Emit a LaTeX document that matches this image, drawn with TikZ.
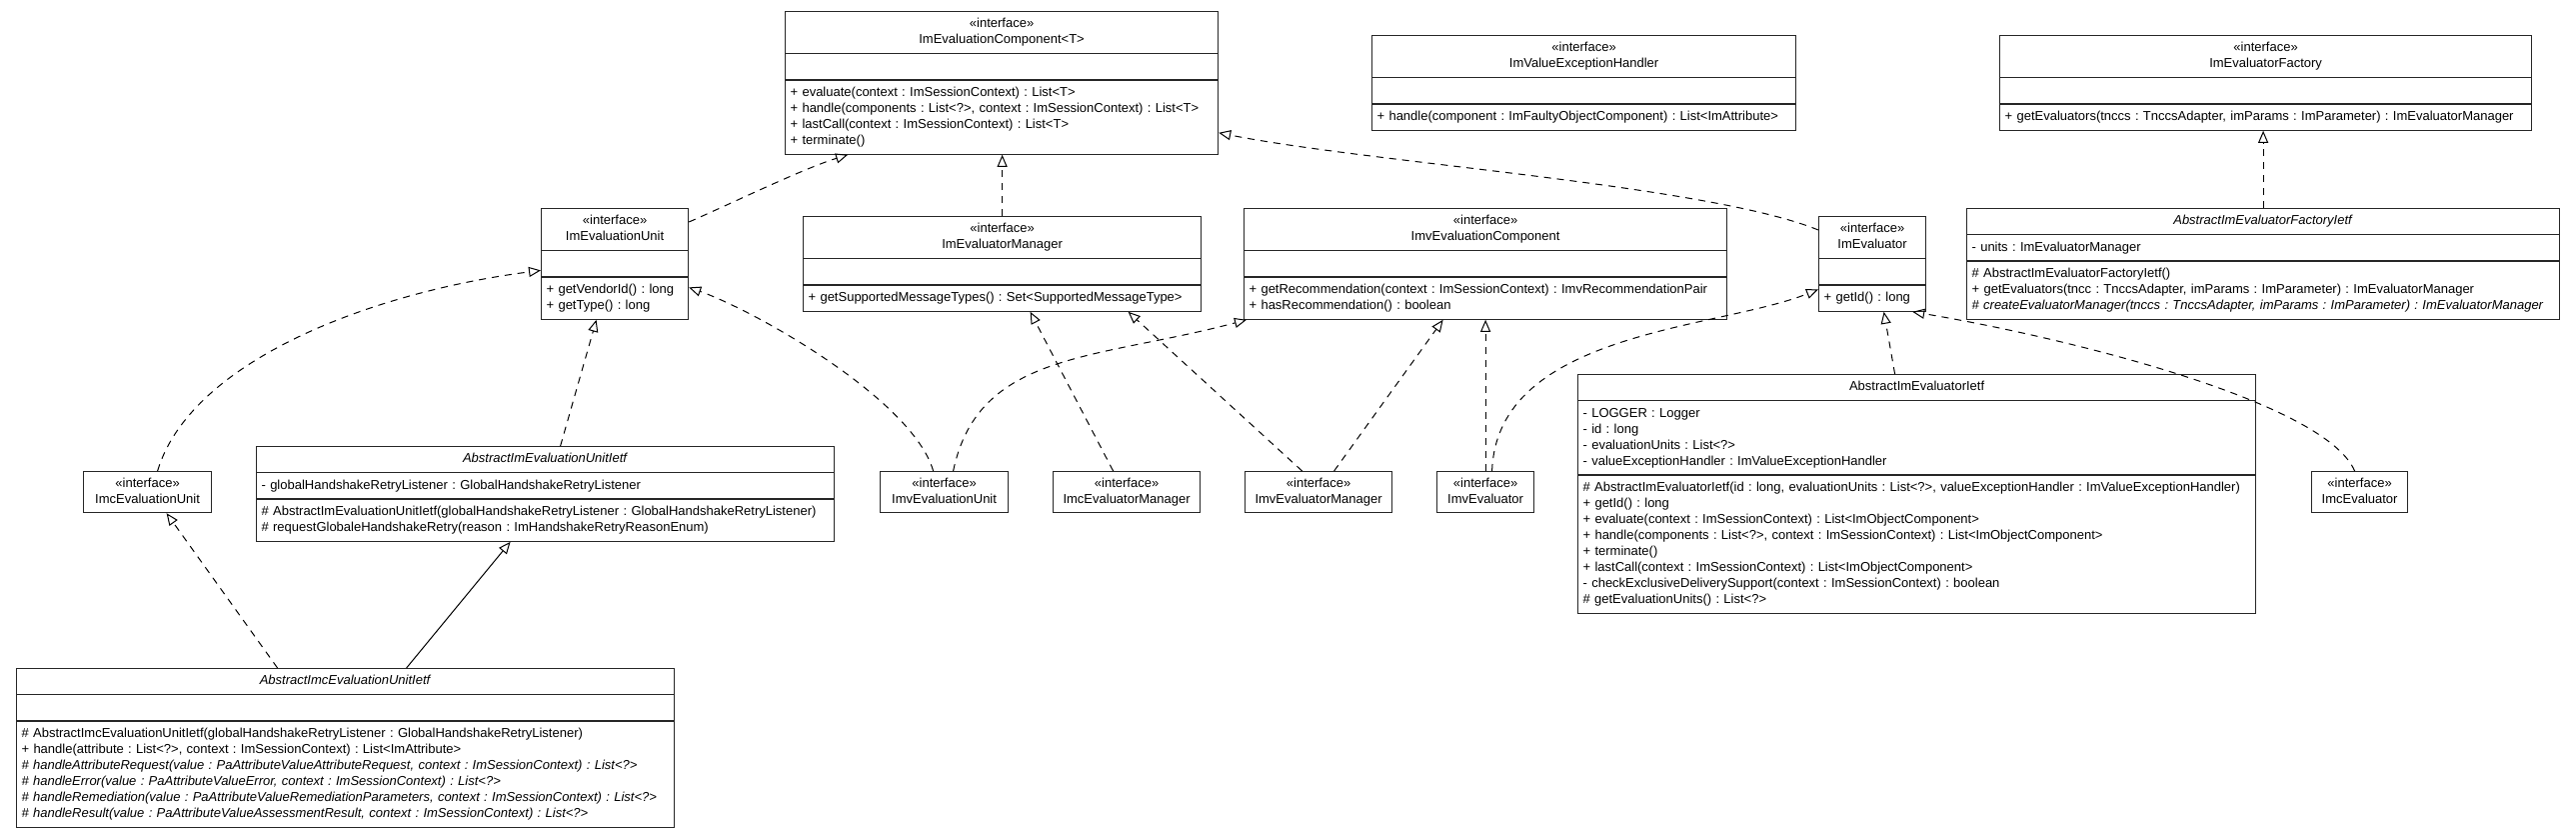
\documentclass[tikz,border=0pt]{standalone}
\usepackage{fontspec}
\setmainfont{Liberation Sans}
\usetikzlibrary{shapes.multipart,arrows.meta}
\frenchspacing

% class box: options, name, position, header, attributes, operations
\newcommand{\umlclass}[6]{%
  \node[umlbox, #1] (#2) at (#3) {\centering\strut#4\strut\par\nodepart{second}\strut#5\strut\nodepart{third}\strut#6\strut};}

\begin{document}
\begin{tikzpicture}[
    x=1pt, y=-1pt,
    font=\fontsize{13pt}{16pt}\selectfont,
    umlbox/.style = {rectangle split, rectangle split parts=3, draw=black!85, line width=1.2pt,
                     fill=white, inner xsep=5pt, inner ysep=4.5pt, align=left, anchor=north west},
    ifacebox/.style = {draw=black!85, line width=1.2pt, fill=white, inner xsep=5pt,
                       inner ysep=4.5pt, align=center, anchor=north west},
    realize/.style = {-{Triangle[open, length=12pt, width=10pt]}, dash pattern=on 7pt off 6pt, line width=1pt},
    inherit/.style = {-{Triangle[open, length=12pt, width=10pt]}, line width=1pt}
    ]
    \useasboundingbox (0,0) rectangle (2577,832);

    % top row
    \umlclass{text width=423pt}{iec}{785,11}{«interface»\par ImEvaluationComponent<T>}{}{%
      + evaluate(context : ImSessionContext) : List<T>\\
      + handle(components : List<?>, context : ImSessionContext) : List<T>\\
      + lastCall(context : ImSessionContext) : List<T>\\
      + terminate()}
    \umlclass{text width=414pt}{ivh}{1372,35}{«interface»\par ImValueExceptionHandler}{}{%
      + handle(component : ImFaultyObjectComponent) : List<ImAttribute>}
    \umlclass{text width=522pt}{ief}{2000,35}{«interface»\par ImEvaluatorFactory}{}{%
      + getEvaluators(tnccs : TnccsAdapter, imParams : ImParameter) : ImEvaluatorManager}

    % second row
    \umlclass{text width=137pt}{ieu}{541,208}{«interface»\par ImEvaluationUnit}{}{%
      + getVendorId() : long\\
      + getType() : long}
    \umlclass{text width=388pt}{iem}{803,216}{«interface»\par ImEvaluatorManager}{}{%
      + getSupportedMessageTypes() : Set<SupportedMessageType>}
    \umlclass{text width=473pt}{ivc}{1244,208}{«interface»\par ImvEvaluationComponent}{}{%
      + getRecommendation(context : ImSessionContext) : ImvRecommendationPair\\
      + hasRecommendation() : boolean}
    \umlclass{text width=97pt}{iev}{1819,216}{«interface»\par ImEvaluator}{}{%
      + getId() : long}
    \umlclass{text width=583pt}{aef}{1967,208}{\textit{AbstractImEvaluatorFactoryIetf}}{%
      - units : ImEvaluatorManager}{%
      \# AbstractImEvaluatorFactoryIetf()\\
      + getEvaluators(tncc : TnccsAdapter, imParams : ImParameter) : ImEvaluatorManager\\
      \textit{\# createEvaluatorManager(tnccs : TnccsAdapter, imParams : ImParameter) : ImEvaluatorManager}}

    % third row
    \node[ifacebox, text width=118pt] (imcu) at (83,471) {\strut«interface»\\ImcEvaluationUnit\strut};
    \umlclass{text width=568pt}{aeu}{256,446}{\textit{AbstractImEvaluationUnitIetf}}{%
      - globalHandshakeRetryListener : GlobalHandshakeRetryListener}{%
      \# AbstractImEvaluationUnitIetf(globalHandshakeRetryListener : GlobalHandshakeRetryListener)\\
      \# requestGlobaleHandshakeRetry(reason : ImHandshakeRetryReasonEnum)}
    \node[ifacebox, text width=118pt] (ivu) at (880,471) {\strut«interface»\\ImvEvaluationUnit\strut};
    \node[ifacebox, text width=137pt] (imcm) at (1053,471) {\strut«interface»\\ImcEvaluatorManager\strut};
    \node[ifacebox, text width=137pt] (ivm) at (1245,471) {\strut«interface»\\ImvEvaluatorManager\strut};
    \node[ifacebox, text width=87pt] (ive) at (1437,471) {\strut«interface»\\ImvEvaluator\strut};
    \umlclass{text width=668pt}{aei}{1578,374}{AbstractImEvaluatorIetf}{%
      - LOGGER : Logger\\
      - id : long\\
      - evaluationUnits : List<?>\\
      - valueExceptionHandler : ImValueExceptionHandler}{%
      \# AbstractImEvaluatorIetf(id : long, evaluationUnits : List<?>, valueExceptionHandler : ImValueExceptionHandler)\\
      + getId() : long\\
      + evaluate(context : ImSessionContext) : List<ImObjectComponent>\\
      + handle(components : List<?>, context : ImSessionContext) : List<ImObjectComponent>\\
      + terminate()\\
      + lastCall(context : ImSessionContext) : List<ImObjectComponent>\\
      - checkExclusiveDeliverySupport(context : ImSessionContext) : boolean\\
      \# getEvaluationUnits() : List<?>}
    \node[ifacebox, text width=86pt] (imce) at (2312,471) {\strut«interface»\\ImcEvaluator\strut};

    % bottom row
    \umlclass{text width=648pt}{aimcu}{16,668}{\textit{AbstractImcEvaluationUnitIetf}}{}{%
      \# AbstractImcEvaluationUnitIetf(globalHandshakeRetryListener : GlobalHandshakeRetryListener)\\
      + handle(attribute : List<?>, context : ImSessionContext) : List<ImAttribute>\\
      \textit{\# handleAttributeRequest(value : PaAttributeValueAttributeRequest, context : ImSessionContext) : List<?>}\\
      \textit{\# handleError(value : PaAttributeValueError, context : ImSessionContext) : List<?>}\\
      \textit{\# handleRemediation(value : PaAttributeValueRemediationParameters, context : ImSessionContext) : List<?>}\\
      \textit{\# handleResult(value : PaAttributeValueAssessmentResult, context : ImSessionContext) : List<?>}}

    % realizations and generalization
    \draw[realize] ([yshift=-14pt]ieu.north east) .. controls +(50,-22) and +(-45,14) .. ([xshift=-154pt]iec.south);
    \draw[realize] (iem.north) -- (iem.north |- iec.south);
    \draw[realize] ([yshift=-14pt]iev.north west) .. controls +(-110,-45) and +(150,30) .. ([yshift=22pt]iec.south east);
    \draw[realize] (aef.north) -- (aef.north |- ief.south);
    \draw[realize] ([xshift=10pt]imcu.north) .. controls +(33,-110) and +(-170,22) .. ([yshift=-6.5pt]ieu.west);
    \draw[realize] ([xshift=15pt]aeu.north) -- ([xshift=-18.5pt]ieu.south);
    \draw[realize] ([xshift=-11pt]ivu.north) .. controls +(-20,-70) and +(70,25) .. ([yshift=-23.5pt]ieu.east);
    \draw[realize] ([xshift=9pt]ivu.north) .. controls +(25,-120) and +(-150,40) .. ([xshift=3pt]ivc.south west);
    \draw[realize] ([xshift=-13.5pt]imcm.north) -- ([xshift=28pt]iem.south);
    \draw[realize] ([xshift=-16.5pt]ivm.north) -- ([xshift=126pt]iem.south);
    \draw[realize] ([xshift=15.5pt]ivm.north) -- ([xshift=-42.5pt]ivc.south);
    \draw[realize] (ive.north) -- (ive.north |- ivc.south);
    \draw[realize] ([xshift=6.5pt]ive.north) .. controls +(5,-140) and +(-100,40) .. ([yshift=-25.5pt]iev.west);
    \draw[realize] ([xshift=-22pt]aei.north) -- ([xshift=11.5pt]iev.south);
    \draw[realize] ([xshift=-5pt]imce.north) .. controls +(-30,-70) and +(150,25) .. ([xshift=-14pt]iev.south east);
    \draw[realize] ([xshift=-68pt]aimcu.north) -- ([xshift=19pt]imcu.south);
    \draw[inherit] ([xshift=61pt]aimcu.north) -- ([xshift=-35pt]aeu.south);
\end{tikzpicture}
\end{document}
